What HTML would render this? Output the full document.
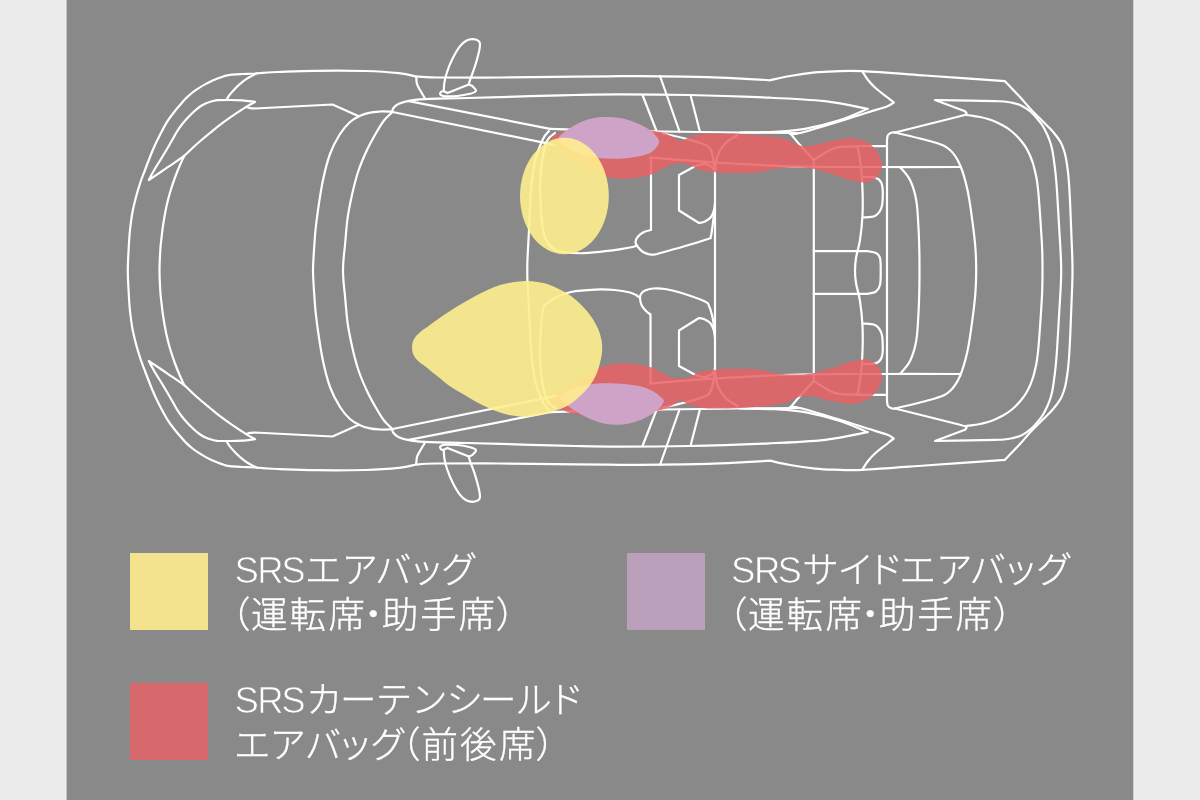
<!DOCTYPE html>
<html lang="ja">
<head>
<meta charset="utf-8">
<title>SRSエアバッグ</title>
<style>
html,body{margin:0;padding:0;background:#ebebeb;}
body{width:1200px;height:800px;overflow:hidden;position:relative;font-family:"Liberation Sans","Noto Sans CJK JP",sans-serif;}
#stage{position:absolute;left:0;top:0;width:1200px;height:800px;}
svg{position:absolute;left:0;top:0;display:block;will-change:transform;}
.sw{position:absolute;width:78px;height:77px;}
</style>
</head>
<body>
<div id="stage">
<svg width="1200" height="800" viewBox="0 0 1200 800">
<rect x="0" y="0" width="1200" height="800" fill="#ebebeb"/>
<rect x="66.6" y="0" width="1066.7" height="800" fill="#898989"/>
<g fill="none" stroke="#ffffff" stroke-width="2.2" stroke-linejoin="round" stroke-linecap="round">
<path d="M127.8 270.5C127.8 263.7 128.2 256.8 128.6 250C129 243.2 129.3 236.3 130 230C130.7 223.7 131.5 217.5 132.5 212C133.5 206.5 134.7 202 136 197C137.3 192 139 186.5 140.5 182C142 177.5 143.6 173.7 145 170C146.4 166.3 147.1 164.2 148.8 160C150.4 155.8 152.9 149.6 155 145C157.1 140.4 159.2 136.5 161.2 132.5C163.3 128.5 165.4 124.6 167.5 121.2C169.6 117.9 171.7 115.2 173.8 112.5C175.8 109.8 177.9 107.4 180 105C182.1 102.6 184.2 100.2 186.2 98.1C188.3 96 190.4 94.2 192.5 92.5C194.6 90.8 196.7 89.4 198.8 88.1C200.8 86.8 202.9 85.5 205 84.4C207.1 83.3 209.2 82.2 211.2 81.2C213.3 80.3 215.4 79.3 217.5 78.5C219.6 77.7 221.7 76.9 223.8 76.2C225.8 75.6 226.9 75.1 230 74.8C233.1 74.4 238.3 74.2 242.5 74C246.7 73.8 252.9 73.6 255 73.5C257.1 73.3 263.3 72.8 267.5 72.5C271.7 72.2 272.1 72.2 280 71.9C287.9 71.6 300.8 70.9 315 70.8C329.2 70.6 351 70.6 365 71C379 71.4 390.2 72.2 398.8 73.1C407.3 74 413.3 75.9 416.2 76.5C419.5 76.7 422 77.3 436 77.5C450 77.7 476.8 77.7 500 77.5C523.2 77.3 555 76.8 575 76.6C595 76.4 605.7 76.3 620 76.2C634.3 76.2 646.4 76.2 661 76.3C675.6 76.4 693.5 76.7 707.5 77.1C721.5 77.5 734.6 78.3 745 78.8C755.4 79.3 765.8 80 770 80.3C773.3 79.6 782.5 77.3 790 76C797.5 74.7 807.5 73.2 815 72.4C822.5 71.6 827.1 71.5 835 71.3C842.9 71.1 847.5 70.5 862.5 71.2C877.5 72 901.2 73.8 925 75.5C948.8 77.2 991.7 80.3 1005 81.2C1007.5 83.9 1015.8 92.5 1020 97C1024.2 101.5 1026.7 104.9 1030 108.5C1033.3 112.1 1036.7 115.2 1040 118.5C1043.3 121.8 1047.3 125.7 1050 128.5C1052.7 131.3 1054.2 133.2 1056 135.5C1057.8 137.8 1059.2 139.8 1060.5 142C1061.8 144.2 1062.7 146.7 1063.5 149C1064.3 151.3 1064.9 153.2 1065.5 156C1066.1 158.8 1066.7 162.5 1067.2 166C1067.7 169.5 1068.1 172.5 1068.5 177C1068.9 181.5 1069.3 187.2 1069.6 193C1069.9 198.8 1070.2 204.2 1070.5 212C1070.8 219.8 1071.3 232.8 1071.6 240C1071.9 247.2 1072 249.9 1072.2 255C1072.4 260.1 1072.5 265.3 1072.5 270.5C1072.5 275.7 1072.4 280.9 1072.2 286C1072 291.1 1071.9 293.8 1071.6 301C1071.3 308.2 1070.8 321.2 1070.5 329C1070.2 336.8 1069.9 342.2 1069.6 348C1069.3 353.8 1068.9 359.5 1068.5 364C1068.1 368.5 1067.7 371.5 1067.2 375C1066.7 378.5 1066.1 382.2 1065.5 385C1064.9 387.8 1064.3 389.7 1063.5 392C1062.7 394.3 1061.8 396.8 1060.5 399C1059.2 401.2 1057.8 403.2 1056 405.5C1054.2 407.8 1052.7 409.7 1050 412.5C1047.3 415.3 1043.3 419.2 1040 422.5C1036.7 425.8 1033.3 428.9 1030 432.5C1026.7 436.1 1024.2 439.5 1020 444C1015.8 448.5 1007.5 457.1 1005 459.8C991.7 460.7 948.8 463.8 925 465.5C901.2 467.2 877.5 469 862.5 469.8C847.5 470.5 842.9 469.9 835 469.7C827.1 469.5 822.5 469.4 815 468.6C807.5 467.8 797.5 466.3 790 465C782.5 463.7 773.3 461.4 770 460.7C765.8 461 755.4 461.7 745 462.2C734.6 462.7 721.5 463.5 707.5 463.9C693.5 464.3 675.6 464.6 661 464.7C646.4 464.8 634.3 464.8 620 464.8C605.7 464.7 595 464.6 575 464.4C555 464.2 523.2 463.7 500 463.5C476.8 463.3 450 463.3 436 463.5C422 463.7 419.5 464.3 416.2 464.5C413.3 465.1 407.3 467 398.8 467.9C390.2 468.8 379 469.6 365 470C351 470.4 329.2 470.4 315 470.2C300.8 470.1 287.9 469.4 280 469.1C272.1 468.8 271.7 468.8 267.5 468.5C263.3 468.2 257.1 467.7 255 467.5C252.9 467.4 246.7 467.2 242.5 467C238.3 466.8 233.1 466.6 230 466.2C226.9 465.9 225.8 465.4 223.8 464.8C221.7 464.1 219.6 463.3 217.5 462.5C215.4 461.7 213.3 460.7 211.2 459.8C209.2 458.8 207.1 457.7 205 456.6C202.9 455.5 200.8 454.2 198.8 452.9C196.7 451.6 194.6 450.2 192.5 448.5C190.4 446.8 188.3 445 186.2 442.9C184.2 440.8 182.1 438.4 180 436C177.9 433.6 175.8 431.2 173.8 428.5C171.7 425.8 169.6 423.1 167.5 419.8C165.4 416.4 163.3 412.5 161.2 408.5C159.2 404.5 157.1 400.6 155 396C152.9 391.4 150.4 385.2 148.8 381C147.1 376.8 146.4 374.7 145 371C143.6 367.3 142 363.5 140.5 359C139 354.5 137.3 349 136 344C134.7 339 133.5 334.5 132.5 329C131.5 323.5 130.7 317.3 130 311C129.3 304.7 129 297.8 128.6 291C128.2 284.2 127.8 277.3 127.8 270.5Z"/>
<path d="M184.4 385.4C183.7 383.8 181.6 379.7 180 376C178.4 372.3 176.7 368.1 175 363.5C173.3 358.9 171.5 353.5 170 348.5C168.5 343.5 167.4 338.9 166.2 333.5C165.1 328.1 163.9 321.1 163.1 316C162.3 310.9 162 307.2 161.5 303C161 298.8 160.6 296.4 160.3 291C160 285.6 159.5 277.3 159.5 270.5C159.5 263.7 160 255.4 160.3 250C160.6 244.6 161 242.2 161.5 238C162 233.8 162.3 230.1 163.1 225C163.9 219.9 165.1 212.9 166.2 207.5C167.4 202.1 168.5 197.5 170 192.5C171.5 187.5 173.3 182.1 175 177.5C176.7 172.9 178.4 168.7 180 165C181.6 161.3 183.7 157.2 184.4 155.6"/>
<path d="M148.8 180C149.7 178.2 152.5 173 154.5 169.5C156.5 166 158.9 162.4 161 159C163.1 155.6 165.1 152.2 167 149C168.9 145.8 170.8 142.4 172.5 139.5C174.2 136.6 175.5 133.9 177 131.5C178.5 129.1 179.8 127.2 181.5 125C183.2 122.8 185.1 120.6 187 118.5C188.9 116.4 191 114.3 193 112.5C195 110.7 196.8 109 198.8 107.5C200.8 106 202.9 104.8 205 103.8C207.1 102.8 209.2 102.1 211.2 101.5C213.3 100.9 214.4 100.5 217.5 100.2C220.6 100 225.8 100 230 100C234.2 100 238.3 100.1 242.5 100.4C246.7 100.7 252.9 101.7 255 101.9C253.5 102.7 250.2 104.4 246.2 106.9C242.2 109.4 235.5 113.8 231 116.9C226.5 120 222.5 122.9 219 125.6C215.5 128.3 212.9 130.6 210 133C207.1 135.4 204.3 137.6 201.5 140C198.7 142.4 195.8 144.9 193 147.5C190.2 150.1 187.9 152.8 184.4 155.6C180.9 158.4 176.1 161.5 172 164.3C167.9 167.1 163.9 169.9 160 172.5C156.1 175.1 150.6 178.8 148.8 180Z"/>
<path d="M148.8 361C149.7 362.8 152.5 368 154.5 371.5C156.5 375 158.9 378.6 161 382C163.1 385.4 165.1 388.8 167 392C168.9 395.2 170.8 398.6 172.5 401.5C174.2 404.4 175.5 407.1 177 409.5C178.5 411.9 179.8 413.8 181.5 416C183.2 418.2 185.1 420.4 187 422.5C188.9 424.6 191 426.7 193 428.5C195 430.3 196.8 432 198.8 433.5C200.8 435 202.9 436.2 205 437.2C207.1 438.2 209.2 438.9 211.2 439.5C213.3 440.1 214.4 440.5 217.5 440.8C220.6 441 225.8 441 230 441C234.2 441 238.3 440.9 242.5 440.6C246.7 440.3 252.9 439.3 255 439.1C253.5 438.3 250.2 436.6 246.2 434.1C242.2 431.6 235.5 427.2 231 424.1C226.5 421 222.5 418.1 219 415.4C215.5 412.7 212.9 410.4 210 408C207.1 405.6 204.3 403.4 201.5 401C198.7 398.6 195.8 396.1 193 393.5C190.2 390.9 187.9 388.2 184.4 385.4C180.9 382.6 176.1 379.5 172 376.7C167.9 373.9 163.9 371.1 160 368.5C156.1 365.9 150.6 362.2 148.8 361Z"/>
<path d="M257 73.3C255.6 74 251.2 76.1 248.8 77.5C246.3 78.9 244.6 80.2 242.5 81.9C240.4 83.6 238.3 85.4 236.2 87.5C234.2 89.6 231.6 92.4 230 94.4C228.4 96.5 227.1 98.9 226.5 99.8"/>
<path d="M257 467.7C255.6 467 251.2 464.9 248.8 463.5C246.3 462.1 244.6 460.8 242.5 459.1C240.4 457.4 238.3 455.6 236.2 453.5C234.2 451.4 231.6 448.6 230 446.6C228.4 444.5 227.1 442.1 226.5 441.2"/>
<path d="M246.2 106.9C246.9 107.1 248.5 107.8 250 108.1C251.5 108.4 254.2 108.4 255 108.5L332.5 104.5L358.8 116.2"/>
<path d="M246.2 434.1C246.9 433.9 248.5 433.2 250 432.9C251.5 432.6 254.2 432.6 255 432.5L332.5 436.5L358.8 424.8"/>
<path d="M392.5 429.4C390.4 429.4 383.8 429.7 380 429.5C376.2 429.3 373.4 429.2 370 428.4C366.6 427.7 362.8 426.6 359.5 425C356.2 423.4 353.2 422 350 419C346.8 416 343.3 412.3 340 407C336.7 401.7 332.8 394.7 330 387C327.2 379.3 325 370.3 323 361C321 351.7 319.2 339.3 318 331C316.8 322.7 316.2 317.7 315.5 311C314.8 304.3 314.4 296 314 291C313.6 286 313.6 284.4 313.4 281C313.2 277.6 313 274 313 270.5C313 267 313.2 263.4 313.4 260C313.6 256.6 313.6 255 314 250C314.4 245 314.8 236.7 315.5 230C316.2 223.3 316.8 218.3 318 210C319.2 201.7 321 189.3 323 180C325 170.7 327.2 161.7 330 154C332.8 146.3 336.7 139.3 340 134C343.3 128.7 346.8 125 350 122C353.2 119 356.2 117.6 359.5 116C362.8 114.4 366.6 113.3 370 112.6C373.4 111.8 376.2 111.7 380 111.5C383.8 111.3 390.4 111.6 392.5 111.6"/>
<path d="M392.5 429C391.1 427.6 386.8 424.2 384 420.5C381.2 416.8 378.3 411.9 375.5 407C372.7 402.1 369.8 397 367 391C364.2 385 361.2 378.3 358.7 371C356.2 363.7 354 355 352.2 347C350.4 339 348.8 331.5 347.6 323C346.4 314.5 345.7 303 345 296C344.3 289 343.8 285.2 343.5 281C343.2 276.8 343 274 343 270.5C343 267 343.2 264.2 343.5 260C343.8 255.8 344.3 252 345 245C345.7 238 346.4 226.5 347.6 218C348.8 209.5 350.4 202 352.2 194C354 186 356.2 177.3 358.7 170C361.2 162.7 364.2 156 367 150C369.8 144 372.7 138.9 375.5 134C378.3 129.1 381.2 124.2 384 120.5C386.8 116.8 391.1 113.4 392.5 112"/>
<path d="M557 145.3L392.5 112C392.6 111.4 392.1 109.9 393.1 108.5C394.1 107.1 395.7 105.1 398.8 103.8C401.8 102.4 406 101.1 411.2 100.3C416.5 99.5 420.6 99.1 430 98.8C439.4 98.4 450.8 98.4 467.5 98C484.2 97.6 512.1 96.8 530 96.2C547.9 95.8 560 95.3 575 95C590 94.7 601 94.4 620 94.4C639 94.4 664 94.5 689 95C714 95.5 747.3 96.7 770 97.7C792.7 98.7 808.8 99.4 825 101.2C841.2 103.1 860.4 107.5 867.5 108.8"/>
<path d="M557 395.7L392.5 429C392.6 429.6 392.1 431.1 393.1 432.5C394.1 433.9 395.7 435.9 398.8 437.2C401.8 438.6 406 439.9 411.2 440.7C416.5 441.5 420.6 441.9 430 442.2C439.4 442.6 450.8 442.6 467.5 443C484.2 443.4 512.1 444.2 530 444.8C547.9 445.2 560 445.7 575 446C590 446.3 601 446.6 620 446.6C639 446.6 664 446.5 689 446C714 445.5 747.3 444.3 770 443.3C792.7 442.3 808.8 441.6 825 439.8C841.2 437.9 860.4 433.5 867.5 432.2"/>
<path d="M408.8 101.2L550 128.8"/>
<path d="M408.8 439.8L550 412.2"/>
<path d="M416.2 76.5C416.4 77.7 416.3 81.5 416.9 83.8C417.5 86 418.6 87.5 420 90C421.4 92.5 424.2 97.1 425 98.5"/>
<path d="M416.2 464.5C416.4 463.3 416.3 459.5 416.9 457.2C417.5 455 418.6 453.5 420 451C421.4 448.5 424.2 443.9 425 442.5"/>
<path d="M443.8 90.5C443.9 89.2 443.9 85.5 444.4 82.5C444.9 79.5 445.5 76.5 446.9 72.5C448.2 68.5 450.3 63.1 452.5 58.8C454.7 54.4 457.7 49.2 460 46.2C462.3 43.3 464.2 42 466.2 40.8C468.3 39.6 470.5 39.2 472.5 39.2C474.5 39.2 477.2 39.9 478.5 40.8C479.8 41.7 480 42.5 480 44.5C480 46.5 479.6 48.9 478.8 52.5C477.9 56.1 476.5 61.7 475 66.2C473.5 70.8 471 77 470 80C469 83 469 83.7 468.8 84.4"/>
<path d="M443.8 450.5C443.9 451.8 443.9 455.5 444.4 458.5C444.9 461.5 445.5 464.5 446.9 468.5C448.2 472.5 450.3 477.9 452.5 482.2C454.7 486.6 457.7 491.8 460 494.8C462.3 497.7 464.2 499 466.2 500.2C468.3 501.4 470.5 501.8 472.5 501.8C474.5 501.8 477.2 501.1 478.5 500.2C479.8 499.3 480 498.5 480 496.5C480 494.5 479.6 492.1 478.8 488.5C477.9 484.9 476.5 479.3 475 474.8C473.5 470.2 471 464 470 461C469 458 469 457.3 468.8 456.6"/>
<path d="M447.5 93.1L468.8 84.4C469.4 84.7 471.3 85.2 472.5 86.2C473.7 87.3 476.4 89.8 476 91C475.6 92.2 473.1 92.9 470 93.8C466.9 94.6 461.7 95.6 457.5 96C453.3 96.4 447.8 96.5 445 96.3C442.2 96.1 441.6 95.5 440.8 95C440 94.5 439.9 93.7 440.2 93.1C440.5 92.5 441.6 91.2 442.8 91.2C444 91.2 446.7 92.8 447.5 93.1"/>
<path d="M447.5 447.9L468.8 456.6C469.4 456.3 471.3 455.8 472.5 454.8C473.7 453.7 476.4 451.2 476 450C475.6 448.8 473.1 448.1 470 447.2C466.9 446.4 461.7 445.4 457.5 445C453.3 444.6 447.8 444.5 445 444.7C442.2 444.9 441.6 445.5 440.8 446C440 446.5 439.9 447.3 440.2 447.9C440.5 448.5 441.6 449.8 442.8 449.8C444 449.8 446.7 448.2 447.5 447.9"/>
<path d="M550 128.8C558.3 129 581.2 130 600 130.5C618.8 131 639.2 131.2 662.5 131.5C685.8 131.8 717.1 132.2 740 132.5C762.9 132.8 790 132.9 800 133"/>
<path d="M550 412.2C558.3 412 581.2 411 600 410.5C618.8 410 639.2 409.8 662.5 409.5C685.8 409.2 717.1 408.8 740 408.5C762.9 408.2 790 408.1 800 408"/>
<path d="M549 410C548 408.7 545.3 407 543 402C540.7 397 537 388.7 535 380C533 371.3 532 361.5 531 350C530 338.5 529.6 322.2 529 311C528.4 299.8 527.8 289.2 527.5 282.5C527.2 275.8 527.3 274.5 527.3 270.5C527.3 266.5 527.2 265.2 527.5 258.5C527.8 251.8 528.4 241.2 529 230C529.6 218.8 530 202.5 531 191C532 179.5 533 169.7 535 161C537 152.3 540.7 144 543 139C545.3 134 548 132.3 549 131"/>
<path d="M715 172.5C714.6 171.7 714.2 169 712.5 167.5C710.8 166 707.9 164 705 163.8C702.1 163.5 696.7 165.8 695 166.2L679 175L679 210.5L699 223C700 222.8 703 222.5 705 221.5C707 220.5 709.5 218.9 711 217C712.5 215.1 713.3 212.4 714 210C714.7 207.6 714.8 203.8 715 202.5"/>
<path d="M715 368.5C714.6 369.3 714.2 372 712.5 373.5C710.8 375 707.9 377 705 377.2C702.1 377.5 696.7 375.2 695 374.8L679 366L679 330.5L699 318C700 318.2 703 318.5 705 319.5C707 320.5 709.5 322.1 711 324C712.5 325.9 713.3 328.6 714 331C714.7 333.4 714.8 337.2 715 338.5"/>
<path d="M715 171C715.4 168.5 715.8 160.6 717.5 156C719.2 151.4 721.7 147 725 143.5C728.3 140 735.4 136.4 737.5 135"/>
<path d="M715 370C715.4 372.5 715.8 380.4 717.5 385C719.2 389.6 721.7 394 725 397.5C728.3 401 735.4 404.6 737.5 406"/>
<path d="M715 171C714.6 168.5 713.8 160.2 712.5 156C711.2 151.8 712.1 148.9 707.5 146C702.9 143.1 692.5 140.6 685 138.5C677.5 136.4 666.2 134.3 662.5 133.5"/>
<path d="M715 370C714.6 372.5 713.8 380.8 712.5 385C711.2 389.2 712.1 392.1 707.5 395C702.9 397.9 692.5 400.4 685 402.5C677.5 404.6 666.2 406.7 662.5 407.5"/>
<path d="M642.5 95L656.5 131"/>
<path d="M642.5 446L656.5 410"/>
<path d="M660 76L679.5 131.5"/>
<path d="M660 465L679.5 409.5"/>
<path d="M690.5 95L700 132"/>
<path d="M690.5 446L700 409"/>
<path d="M867.5 108.8C862.9 110.6 850.4 116.7 840 120C829.6 123.3 815.8 126.8 805 128.8C794.2 130.7 785.8 131.1 775 131.8C764.2 132.4 745.8 132.4 740 132.5"/>
<path d="M867.5 432.2C862.9 430.4 850.4 424.3 840 421C829.6 417.7 815.8 414.2 805 412.2C794.2 410.3 785.8 409.9 775 409.2C764.2 408.6 745.8 408.6 740 408.5"/>
<path d="M862.5 71.5C863.4 72.9 865.9 77.3 868 80C870.1 82.7 871.8 84.6 875 87.5C878.2 90.4 884.4 95 887.5 97.5C890.6 100 892.7 101.7 893.8 102.5C892.7 103.1 891.9 104.6 887.5 106.2C883.1 107.9 875.4 110 867.5 112.5C859.6 115 851.2 117.8 840 121.2C828.8 124.7 808.3 130.9 800 133C791.7 135.1 791.7 133.8 790 134"/>
<path d="M862.5 469.5C863.4 468.1 865.9 463.7 868 461C870.1 458.3 871.8 456.4 875 453.5C878.2 450.6 884.4 446 887.5 443.5C890.6 441 892.7 439.3 893.8 438.5C892.7 437.9 891.9 436.4 887.5 434.8C883.1 433.1 875.4 431 867.5 428.5C859.6 426 851.2 423.2 840 419.8C828.8 416.3 808.3 410.1 800 408C791.7 405.9 791.7 407.2 790 407"/>
<path d="M790 133C791.7 135 796 140.5 800 145C804 149.5 811.5 157.5 813.8 160L813.8 270.5L813.8 381C811.5 383.5 804 391.5 800 396C796 400.5 791.7 406 790 408"/>
<path d="M813.8 160C816.5 158.3 825.6 152.2 830 150C834.4 147.8 835 147.6 840 147C845 146.4 852.2 146.4 860 146.2C867.8 146.1 882.5 146.2 887 146.2"/>
<path d="M813.8 381C816.5 382.7 825.6 388.8 830 391C834.4 393.2 835 393.4 840 394C845 394.6 852.2 394.6 860 394.8C867.8 394.9 882.5 394.8 887 394.8"/>
<path d="M650 157.5C660.8 158.3 690 161 715 162.5C740 164 772.3 165.8 800 166.5C827.7 167.2 854.2 166.9 881 167C907.8 167.1 947.7 167 961 167"/>
<path d="M650 383.5C660.8 382.7 690 380 715 378.5C740 377 772.3 375.2 800 374.5C827.7 373.8 854.2 374.1 881 374C907.8 373.9 947.7 374 961 374"/>
<path d="M862.5 177C864.6 177.1 871.9 176.6 875 177.5C878.1 178.4 880 180 881.2 182.5C882.5 185 882.7 188.3 882.8 192.5C882.8 196.7 882.8 203.6 881.5 207.5C880.2 211.4 878.2 214.3 875 216C871.8 217.7 864.6 217.2 862.5 217.5"/>
<path d="M862.5 364C864.6 363.9 871.9 364.4 875 363.5C878.1 362.6 880 361 881.2 358.5C882.5 356 882.7 352.7 882.8 348.5C882.8 344.3 882.8 337.4 881.5 333.5C880.2 329.6 878.2 326.7 875 325C871.8 323.3 864.6 323.8 862.5 323.5"/>
<path d="M895 408.5C894.5 408.5 893.2 408.9 892 408.5C890.8 408.1 888.8 407.2 888 406C887.2 404.8 887.2 401.8 887 401L887 270.5L887 140C887.2 139.2 887.2 136.2 888 135C888.8 133.8 890.8 132.9 892 132.5C893.2 132.1 894.5 132.5 895 132.5"/>
<path d="M895 132.5L960 116.2C961.1 115.9 965.7 114.8 966.5 114C967.3 113.2 965.2 111.7 965 111.2L935 100C940.8 100.1 960 100.5 970 100.7C980 100.9 989.3 101.1 995 101.2C1000.7 101.3 1001.2 101.2 1004 101.5C1006.8 101.8 1009.3 102.2 1012 102.8C1014.7 103.4 1017.6 104 1020 105C1022.4 106 1024.4 107.3 1026.5 108.7C1028.6 110.1 1030.7 111.8 1032.5 113.5C1034.3 115.2 1035.8 117 1037.5 119C1039.2 121 1041 123.2 1042.5 125.5C1044 127.8 1045.2 130.3 1046.5 133C1047.8 135.7 1049 138.7 1050 141.5C1051 144.3 1051.6 146.8 1052.3 150C1053 153.2 1053.4 156.8 1054 161C1054.6 165.2 1055.2 170 1055.7 175C1056.2 180 1056.6 185 1057 191C1057.4 197 1057.8 203.7 1058.2 211C1058.6 218.3 1059.2 228.2 1059.6 235C1060 241.8 1060.3 246.1 1060.6 252C1060.9 257.9 1061.2 264.3 1061.2 270.5C1061.2 276.7 1060.9 283.1 1060.6 289C1060.3 294.9 1060 299.2 1059.6 306C1059.2 312.8 1058.6 322.7 1058.2 330C1057.8 337.3 1057.4 344 1057 350C1056.6 356 1056.2 361 1055.7 366C1055.2 371 1054.6 375.8 1054 380C1053.4 384.2 1053 387.8 1052.3 391C1051.6 394.2 1051 396.7 1050 399.5C1049 402.3 1047.8 405.3 1046.5 408C1045.2 410.7 1044 413.2 1042.5 415.5C1041 417.8 1039.2 420 1037.5 422C1035.8 424 1034.3 425.8 1032.5 427.5C1030.7 429.2 1028.6 430.9 1026.5 432.3C1024.4 433.7 1022.4 435 1020 436C1017.6 437 1014.7 437.6 1012 438.2C1009.3 438.8 1006.8 439.2 1004 439.5C1001.2 439.8 1000.7 439.7 995 439.8C989.3 439.9 980 440.1 970 440.3C960 440.5 940.8 440.9 935 441L965 429.8C965.2 429.3 967.3 427.8 966.5 427C965.7 426.2 961.1 425.1 960 424.8L895 408.5"/>
<path d="M965 115C966.3 115.1 970.5 115.5 973 115.8C975.5 116.1 977.5 116.5 980 117C982.5 117.5 985.3 118.2 988 119C990.7 119.8 993.5 120.9 996 122C998.5 123.1 1000.7 124.2 1003 125.5C1005.3 126.8 1007.8 128.3 1010 130C1012.2 131.7 1014.5 133.8 1016.5 135.8C1018.5 137.8 1020.3 139.9 1022 142C1023.7 144.1 1025.2 146.2 1026.5 148.5C1027.8 150.8 1028.9 153 1030 155.5C1031.1 158 1032.1 160.8 1033 163.5C1033.9 166.2 1034.5 169.1 1035.2 172C1035.9 174.9 1036.5 177.7 1037 181C1037.5 184.3 1037.8 187 1038.3 192C1038.8 197 1039.3 204.3 1039.8 211C1040.3 217.7 1040.8 225.5 1041.2 232C1041.6 238.5 1042 243.6 1042.2 250C1042.4 256.4 1042.5 263.7 1042.5 270.5C1042.5 277.3 1042.4 284.6 1042.2 291C1042 297.4 1041.6 302.5 1041.2 309C1040.8 315.5 1040.3 323.3 1039.8 330C1039.3 336.7 1038.8 344 1038.3 349C1037.8 354 1037.5 356.7 1037 360C1036.5 363.3 1035.9 366.1 1035.2 369C1034.5 371.9 1033.9 374.8 1033 377.5C1032.1 380.2 1031.1 383 1030 385.5C1028.9 388 1027.8 390.2 1026.5 392.5C1025.2 394.8 1023.7 396.9 1022 399C1020.3 401.1 1018.5 403.2 1016.5 405.2C1014.5 407.2 1012.2 409.3 1010 411C1007.8 412.7 1005.3 414.2 1003 415.5C1000.7 416.8 998.5 417.9 996 419C993.5 420.1 990.7 421.2 988 422C985.3 422.8 982.5 423.5 980 424C977.5 424.5 975.5 424.9 973 425.2C970.5 425.5 966.3 425.9 965 426"/>
<path d="M895 132.5C901.7 134.2 925.8 139.6 935 142.5C944.2 145.4 945.8 146.2 950 150C954.2 153.8 957.1 158.3 960 165C962.9 171.7 965.4 180.5 967.5 190C969.6 199.5 971.2 212.3 972.5 222C973.8 231.7 974.8 239.9 975.4 248C976 256.1 976.2 263 976.2 270.5C976.2 278 976 284.9 975.4 293C974.8 301.1 973.8 309.3 972.5 319C971.2 328.7 969.6 341.5 967.5 351C965.4 360.5 962.9 369.3 960 376C957.1 382.7 954.2 387.2 950 391C945.8 394.8 944.2 395.6 935 398.5C925.8 401.4 901.7 406.8 895 408.5"/>
<path d="M900 167C901.7 169.2 907.3 174.5 910 180C912.7 185.5 914.8 192 916.2 200C917.7 208 918 219.7 918.5 228C919 236.3 919.1 242.9 919.3 250C919.5 257.1 919.5 263.7 919.5 270.5C919.5 277.3 919.5 283.9 919.3 291C919.1 298.1 919 304.7 918.5 313C918 321.3 917.7 333 916.2 341C914.8 349 912.7 355.5 910 361C907.3 366.5 901.7 371.8 900 374"/>
<path d="M555 133C553.7 134.3 549.2 136.3 547 141C544.8 145.7 543.1 154.5 542 161C540.9 167.5 540.6 174.3 540.3 180C540 185.7 540.1 189.7 540.3 195C540.4 200.3 540.8 206.8 541.2 212C541.6 217.2 541.7 221.3 542.5 226C543.3 230.7 544 236.1 546 240C548 243.9 551.7 247.4 554.4 249.4C557.1 251.4 557 251.4 562 252C567 252.6 576 253.5 584.4 253.2C592.8 252.9 604.9 251.2 612.5 250.3C620.1 249.4 625.9 248.3 630 247.5C634.1 246.7 635.8 245.8 637 245.5"/>
<path d="M651 157.5L651 230C649.8 230.3 646.2 230.9 644 232C641.8 233.1 639.4 234.8 638 236.5C636.6 238.2 635.6 240.3 635.5 242C635.4 243.7 636.2 244.8 637.5 246.5C638.8 248.2 640.9 250.7 643 252C645.1 253.3 648 254.1 650 254.5C652 254.9 654.2 254.5 655 254.5C659.5 253.2 673.2 249.6 682 247C690.8 244.4 703.2 240.6 708 239C712.8 237.4 709.8 239 710.5 237.5C711.2 236 711.5 233.2 712 230C712.5 226.8 713.1 221.7 713.5 218C713.9 214.3 714.4 209.7 714.6 208"/>
<path d="M555 408C553.7 406.7 549.2 404.7 547 400C544.8 395.3 543.2 388.3 542 380C540.8 371.7 540 360.7 540 350C540 339.3 541.3 323.3 542 316C542.7 308.7 543.7 307.7 544 306C545.8 304.7 550.5 300.3 555 298C559.5 295.7 564.3 293.4 571 292C577.7 290.6 587.7 289.9 595 289.6C602.3 289.3 609.2 289.5 615 290C620.8 290.5 626.3 291.6 630 292.5C633.7 293.4 635.8 295 637 295.5"/>
<path d="M636.5 295.3L640 298"/>
<path d="M650.5 383.5L650.5 314.5C649.8 313.9 647.5 312.6 646 311C644.5 309.4 642.5 307.2 641.5 305C640.5 302.8 640.1 299.8 640 298C639.9 296.2 640.2 295.2 641 294C641.8 292.8 643 291.4 645 290.5C647 289.6 649.7 288.8 653 288.5C656.3 288.2 660.5 288.3 665 289C669.5 289.7 673.3 290.4 680 292.5C686.7 294.6 700.2 299.2 705 301.5C709.8 303.8 707.8 303.8 709 306C710.2 308.2 711.2 311.7 712 315C712.8 318.3 713.5 322.8 714 326C714.5 329.2 714.7 332.7 714.8 334"/>
<path d="M715 171L715 370"/>
<path d="M857.5 394.8C858.1 391.3 860.2 381.3 861 374C861.8 366.7 862.2 359 862.5 351C862.8 343 862.9 334.3 862.5 326C862.1 317.7 861.1 308.2 860 301C858.9 293.8 856.8 288.1 856 283C855.2 277.9 855 274.7 855 270.5C855 266.3 855.2 263.1 856 258C856.8 252.9 858.9 247.2 860 240C861.1 232.8 862.1 223.3 862.5 215C862.9 206.7 862.8 198 862.5 190C862.2 182 861.8 174.3 861 167C860.2 159.7 858.1 149.7 857.5 146.2"/>
<path d="M813.8 251.2L868 251.2C869.3 251.5 874 251.9 876 253C878 254.1 879.2 255.1 880 258C880.8 260.9 880.7 266 880.7 270.5C880.7 275 880.8 281.5 880 285C879.2 288.5 878 290 876 291.5C874 293 869.3 293.4 868 293.8L813.8 293.8"/>
</g>
<g opacity="0.85" fill="#e96366">
<path d="M551 140C549.8 136.5 554 136 558 134C562 132 568 129.2 575 128C582 126.8 588.3 126.2 600 126.5C611.7 126.8 634.6 129 645 130C655.4 131 657.7 131.2 662.5 132.5C667.3 133.8 671.1 136 674 137.5C676.9 139 677.3 141.3 680 141.2C682.7 141.2 685.8 138.3 690 137C694.2 135.7 696.7 134.2 705 133.7C713.3 133.2 728.3 133.4 740 134C751.7 134.6 766.7 135.9 775 137C783.3 138.1 785.8 139.1 790 140.5C794.2 141.9 796.2 144.7 800 145.5C803.8 146.3 807.5 146.2 812.5 145.5C817.5 144.8 823.8 142.5 830 141.2C836.2 140 844.2 138 850 138C855.8 138 860.8 139.5 865 141.2C869.2 143 872.3 145.6 875 148.8C877.7 151.9 880.2 156.5 881.2 160C882.3 163.5 882.3 166.9 881.2 170C880.2 173.1 877.7 176.7 875 178.8C872.3 180.8 869.2 182.3 865 182.5C860.8 182.7 855 181.2 850 180C845 178.8 841.2 176.9 835 175C828.8 173.1 819.2 170 812.5 168.8C805.8 167.5 801.2 167.5 795 167.5C788.8 167.5 781.2 167.9 775 168.8C768.8 169.6 765.8 171.8 757.5 172.5C749.2 173.2 734.6 173.4 725 173C715.4 172.6 705.8 171.3 700 170C694.2 168.7 694.2 166 690 165C685.8 164 679.6 163.1 675 163.8C670.4 164.4 666.7 166.9 662.5 168.8C658.3 170.6 656.2 173.3 650 175C643.8 176.7 632.5 178.5 625 178.8C617.5 179 611.2 178.1 605 176.2C598.8 174.4 594.2 171 587.5 167.5C580.8 164 571.1 159.6 565 155C558.9 150.4 552.2 143.5 551 140Z"/>
<path d="M551 402C549.8 405.5 554 406 558 408C562 410 568 412.8 575 414C582 415.2 588.3 415.8 600 415.5C611.7 415.2 634.6 413 645 412C655.4 411 657.7 410.8 662.5 409.5C667.3 408.2 671.1 406 674 404.5C676.9 403 677.3 400.7 680 400.8C682.7 400.8 685.8 403.7 690 405C694.2 406.3 696.7 407.8 705 408.3C713.3 408.8 728.3 408.6 740 408C751.7 407.4 766.7 406.1 775 405C783.3 403.9 785.8 402.9 790 401.5C794.2 400.1 796.2 397.3 800 396.5C803.8 395.7 807.5 395.8 812.5 396.5C817.5 397.2 823.8 399.5 830 400.8C836.2 402 844.2 404 850 404C855.8 404 860.8 402.5 865 400.8C869.2 399 872.3 396.4 875 393.2C877.7 390.1 880.2 385.5 881.2 382C882.3 378.5 882.3 375.1 881.2 372C880.2 368.9 877.7 365.3 875 363.2C872.3 361.2 869.2 359.7 865 359.5C860.8 359.3 855 360.8 850 362C845 363.2 841.2 365.1 835 367C828.8 368.9 819.2 372 812.5 373.2C805.8 374.5 801.2 374.5 795 374.5C788.8 374.5 781.2 374.1 775 373.2C768.8 372.4 765.8 370.2 757.5 369.5C749.2 368.8 734.6 368.6 725 369C715.4 369.4 705.8 370.7 700 372C694.2 373.3 694.2 376 690 377C685.8 378 679.6 378.9 675 378.2C670.4 377.6 666.7 375.1 662.5 373.2C658.3 371.4 656.2 368.7 650 367C643.8 365.3 632.5 363.5 625 363.2C617.5 363 611.2 363.9 605 365.8C598.8 367.6 594.2 371 587.5 374.5C580.8 378 571.1 382.4 565 387C558.9 391.6 552.2 398.5 551 402Z"/>
</g>
<g fill="#cfa3c8">
<path d="M558 139C558.8 135 569.3 128.4 575 125C580.7 121.6 586.6 119.8 592 118.5C597.4 117.2 602 116.9 607.5 117C613 117.1 618.8 117.3 625 119C631.2 120.7 639.8 124.2 645 127C650.2 129.8 653.7 133.3 656 136C658.3 138.7 659.8 140.2 658.8 143C657.8 145.8 654.5 150.6 650 153C645.5 155.4 638.2 156.5 632 157.5C625.8 158.5 619.5 158.9 612.5 158.8C605.5 158.6 597.1 158.1 590 156.5C582.9 154.9 575.3 151.9 570 149C564.7 146.1 557.2 143 558 139Z"/>
<path d="M559.5 398.5C561 396.9 564.8 392.4 570 390C575.2 387.6 583.5 385.3 591 384.2C598.5 383.1 607.2 383.2 615 383.5C622.8 383.8 631.2 384.6 637.5 385.8C643.8 387.1 648.5 389 652.5 391C656.5 393 659.6 396.1 661.5 397.8C663.4 399.6 664.2 399.6 663.8 401.5C663.2 403.4 661.6 406.2 658.5 409C655.4 411.8 649.8 415.6 645 418C640.2 420.4 635 422.1 630 423.2C625 424.3 620 424.9 615 424.8C610 424.7 605 423.9 600 422.5C595 421.1 590 419 585 416.5C580 414 574 410.3 570 407.5C566 404.7 562.8 401 561 399.5C559.2 398 558 400.1 559.5 398.5Z"/>
</g>
<g opacity="0.9" fill="#ffee8f">
<ellipse cx="564.4" cy="196" rx="44.4" ry="58.2"/>
<path d="M412.1 347.5C412.1 345.8 412.1 344.2 412.6 342.5C413.1 340.8 413.9 339.1 415 337.5C416.1 335.9 417.8 334.2 419.5 332.7C421.2 331.2 422 330.7 425 328.5C428 326.3 433.3 322.3 437.5 319.4C441.7 316.5 445.8 313.7 450 311C454.2 308.3 458.3 305.8 462.5 303.3C466.7 300.8 470.8 298.5 475 296.2C479.2 294 483.3 291.9 487.5 290C491.7 288.1 495.8 286.3 500 285C504.2 283.7 508.3 282.9 512.5 282.2C516.7 281.6 520.8 281.1 525 281C529.2 280.9 533.3 281.2 537.5 281.9C541.7 282.6 545 283 550 285C555 287 562.5 290.6 567.5 293.8C572.5 296.9 576.2 300.2 580 303.8C583.8 307.3 587.1 311 590 315C592.9 319 595.6 323.5 597.5 327.5C599.4 331.5 600.5 335.4 601.2 338.8C602 342.1 602.2 344.4 602.2 347.5C602.2 350.6 602 353.8 601.2 357.5C600.5 361.2 599.3 366.2 598 370C596.7 373.8 595.3 376.8 593.5 380C591.7 383.2 589.6 386 587 389C584.4 392 581.5 395.1 578 398C574.5 400.9 570.7 404.1 566 406.5C561.3 408.9 554.8 411 550 412.5C545.2 414 541.7 414.9 537.5 415.6C533.3 416.3 529.2 416.9 525 416.9C520.8 416.9 516.7 416.3 512.5 415.6C508.3 414.9 504.2 413.9 500 412.5C495.8 411.1 491.7 409.4 487.5 407.5C483.3 405.6 479.2 403.5 475 401.2C470.8 399 466.7 396.2 462.5 393.8C458.3 391.2 454.2 389.2 450 386.2C445.8 383.3 441.7 379.6 437.5 376.2C433.3 372.9 428 368.6 425 366.2C422 363.9 421.2 363.7 419.5 362.2C417.8 360.7 416.1 359.1 415 357.5C413.9 355.9 413.1 354.2 412.6 352.5C412.1 350.8 412.1 349.2 412.1 347.5Z"/>
</g>
<g id="labels" fill="#ffffff" font-size="36.5" font-weight="300" stroke="#ffffff" stroke-width="0.35" style="font-family:'Liberation Sans','Noto Sans CJK JP',sans-serif">
<text y="583"><tspan x="234.4 257.2 281.2" stroke="#898989" stroke-width="0.7">SRS</tspan><tspan x="304.9 341.5 375 408.2 441">エアバッグ</tspan></text>
<text y="627.7"><tspan x="213.9 250.9 289.5 328.5 355 381.8 420.3 458.5 495.8">（運転席・助手席）</tspan></text>
<text y="583"><tspan x="731 753.9 777.5" stroke="#898989" stroke-width="0.7">SRS</tspan><tspan x="802.2 837.5 867 899.5 936.1 969.5 1002.2 1035.9">サイドエアバッグ</tspan></text>
<text y="627.7"><tspan x="710.9 747.9 786.5 825.5 852 878.8 917.3 955.5 992.8">（運転席・助手席）</tspan></text>
<text y="713"><tspan x="234.4 257.2 281.2" stroke="#898989" stroke-width="0.7">SRS</tspan><tspan x="306.1 340.1 375.8 411.1 446.4 480.1 515.2 547.8">カーテンシールド</tspan></text>
<text y="757.6"><tspan x="234 269.5 304.8 336.8 370 383.9 421.4 460.1 499.1 535.4">エアバッグ（前後席）</tspan></text>
</g>
</svg>
<div class="sw" style="left:130px;top:553px;background:#f4e38e"></div>
<div class="sw" style="left:130px;top:683px;background:#d7686b"></div>
<div class="sw" style="left:627px;top:553px;background:#b99fb9"></div>
</div>
</body>
</html>
